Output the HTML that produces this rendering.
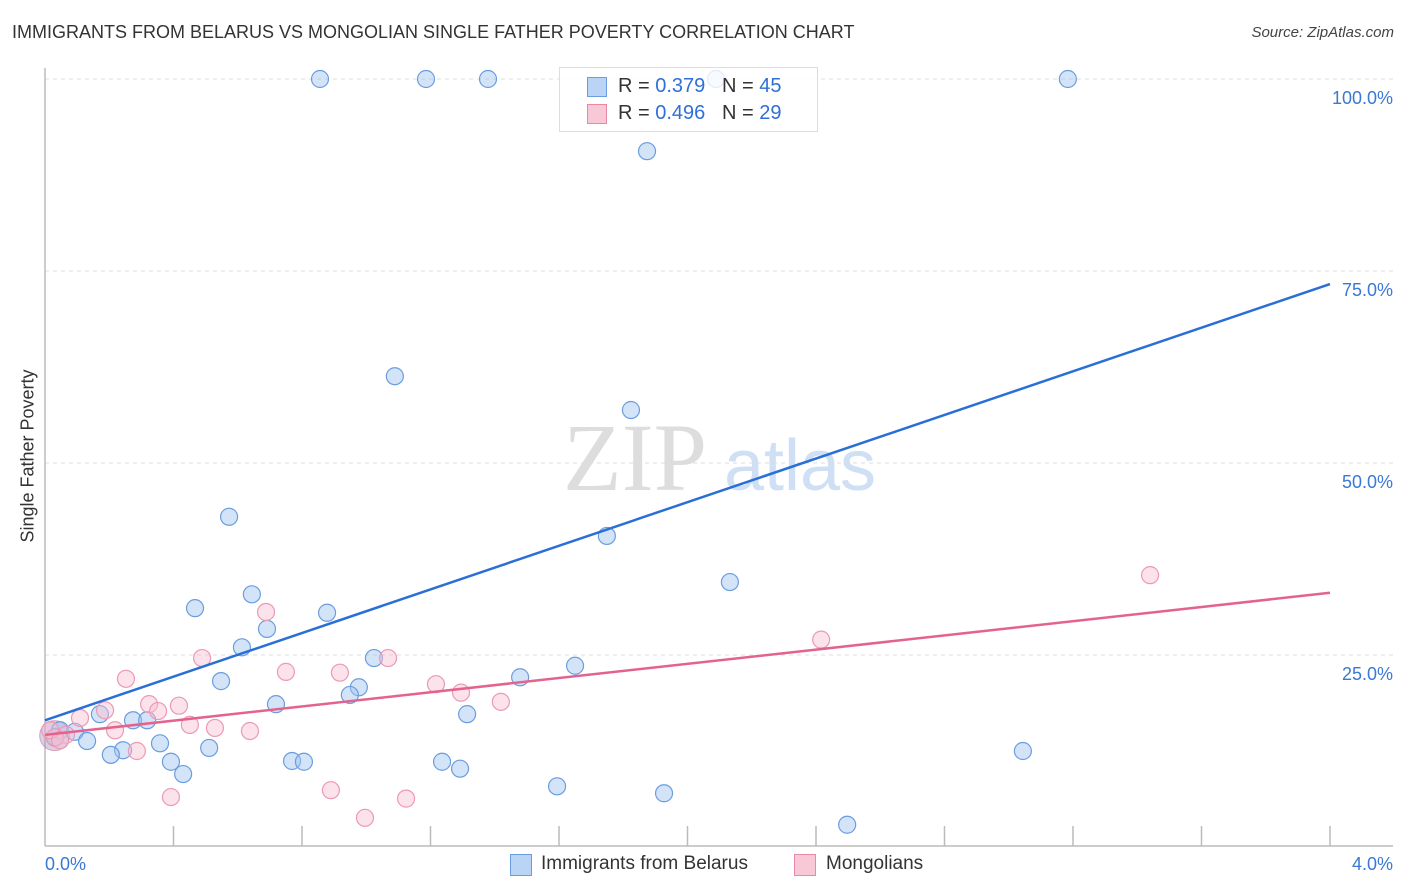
<!DOCTYPE html>
<html><head><meta charset="utf-8"><style>
body{margin:0;background:#fff;font-family:"Liberation Sans",sans-serif;}
#wrap{position:relative;width:1406px;height:892px;overflow:hidden;}
.t{position:absolute;white-space:nowrap;}
</style></head><body>
<div id="wrap">
<svg id="svg" width="1406" height="892" style="position:absolute;left:0;top:0">
<text x="635" y="490" font-family="Liberation Serif,serif" font-size="96" fill="#ddd" text-anchor="middle">ZIP</text>
<text x="800" y="490" font-family="Liberation Sans,sans-serif" font-size="72" fill="#cfe0f5" text-anchor="middle">atlas</text>
</svg>
<div class="t" style="left:12px;top:22px;font-size:18px;color:#333;">IMMIGRANTS FROM BELARUS VS MONGOLIAN SINGLE FATHER POVERTY CORRELATION CHART</div>
<div class="t" style="right:12px;top:24px;font-size:15px;color:#444;font-style:italic;">Source: ZipAtlas.com</div>
<div class="t" style="left:28px;top:456px;font-size:18px;color:#333;transform:translate(-50%,-50%) rotate(-90deg);">Single Father Poverty</div>
<div style="position:absolute;left:559px;top:67px;width:257px;height:63px;border:1px solid #ddd;background:rgba(255,255,255,0.8);font-size:20px;">
<div style="position:absolute;left:27px;top:9px;width:18px;height:18px;background:#b9d4f5;border:1px solid #6a9de0;"></div>
<div class="t" style="left:58px;top:7px;color:#333">R = <span style="color:#2f6fd8">0.379</span> &nbsp; N = <span style="color:#2f6fd8">45</span></div>
<div style="position:absolute;left:27px;top:36px;width:18px;height:18px;background:#f8c8d6;border:1px solid #e88aa6;"></div>
<div class="t" style="left:58px;top:34px;color:#333">R = <span style="color:#2f6fd8">0.496</span> &nbsp; N = <span style="color:#2f6fd8">29</span></div>
</div>
<div style="position:absolute;left:510px;top:854px;width:20px;height:20px;background:#b9d4f5;border:1px solid #6a9de0;"></div>
<div class="t" style="left:541px;top:853px;font-size:19px;color:#333">Immigrants from Belarus</div>
<div style="position:absolute;left:794px;top:854px;width:20px;height:20px;background:#f8c8d6;border:1px solid #e88aa6;"></div>
<div class="t" style="left:826px;top:853px;font-size:19px;color:#333">Mongolians</div>
</div>
<script>
const blueX=[0.856,1.186,1.379,2.089,3.184,1.874,1.089,1.824,0.573,1.749,2.132,0.644,0.467,0.878,0.691,0.613,1.024,1.650,1.479,0.548,0.977,0.949,0.719,0.171,1.314,0.274,0.318,0.047,0.093,0.131,0.358,0.243,0.511,0.205,3.044,0.392,0.769,0.806,1.236,1.292,0.430,1.594,1.927,2.497,0.031];
const blueY=[100,100,100,100,100,90.6,61.3,56.9,43.0,40.5,34.5,32.9,31.1,30.5,28.4,26.0,24.6,23.6,22.1,21.6,20.8,19.8,18.6,17.3,17.3,16.5,16.5,15.2,15.0,13.8,13.5,12.6,12.9,12.0,12.5,11.1,11.2,11.1,11.1,10.2,9.5,7.9,7.0,2.9,14.3];
const pinkX=[3.440,2.416,0.688,0.489,1.068,0.252,0.750,0.918,1.217,1.295,0.324,0.417,1.419,0.187,0.352,0.451,0.529,0.638,0.218,0.109,0.286,0.065,0.392,0.890,1.124,0.996,0.031,0.016,0.047];
const pinkY=[35.4,27.0,30.6,24.6,24.6,21.9,22.8,22.7,21.2,20.1,18.6,18.4,18.9,17.8,17.7,15.9,15.5,15.1,15.2,16.8,12.5,14.6,6.5,7.4,6.3,3.8,14.2,15.2,13.9];
const blueLine=[16.5,73.3];
const pinkLine=[14.6,33.1];
const yTicks=[25,50,75,100];
const yTickLabels=["25.0%","50.0%","75.0%","100.0%"];
const xTicks=[0,0.4,0.8,1.2,1.6,2.0,2.4,2.8,3.2,3.6,4.0];
const xEndLabels=["0.0%","4.0%"];
const X0=45,X1=1330,Y0=847,Y100=79;
const sx=v=>X0+(v/4)*(X1-X0);
const sy=v=>Y0-(v/100)*(Y0-Y100);
const svg=document.getElementById('svg');const NS='http://www.w3.org/2000/svg';
function mk(tag,at){const e=document.createElementNS(NS,tag);for(const k in at)e.setAttribute(k,at[k]);svg.appendChild(e);return e;}
yTicks.forEach((t,i)=>{
 const g=mk('line',{x1:X0,x2:1393,y1:sy(t),y2:sy(t),stroke:'#ddd','stroke-dasharray':'4,4'});
 
 
 const l=mk('text',{x:1393,y:sy(t)+25,'text-anchor':'end','font-size':18,fill:'#3a78d6','font-family':'Liberation Sans,sans-serif'});
 l.textContent=yTickLabels[i];
 
 
});
const ax=mk('line',{x1:X0,x2:X0,y1:68,y2:846,stroke:'#bbb','stroke-width':1.5});


const bx=mk('line',{x1:X0,x2:1393,y1:846,y2:846,stroke:'#bbb','stroke-width':1.5});


xTicks.forEach(t=>{if(t===0)return;
 const e=mk('line',{x1:sx(t),x2:sx(t),y1:826,y2:846,stroke:'#bbb','stroke-width':1.5});
 
 
});
[[0,'start',45],[4,'end',1393]].forEach((d,i)=>{
 const l=mk('text',{x:d[2],y:870,'text-anchor':d[1],'font-size':18,fill:'#3a78d6','font-family':'Liberation Sans,sans-serif'});
 l.textContent=xEndLabels[i];
 
 
});
const big=mk('circle',{cx:sx(0.03),cy:sy(14.5),r:15,fill:'rgba(170,150,200,0.45)',stroke:'rgba(200,120,160,0.6)'});


blueX.forEach((x,i)=>{
 const c=mk('circle',{cx:sx(x),cy:sy(blueY[i]),r:8.5,fill:'rgba(160,196,240,0.45)',stroke:'#6a9de0','stroke-width':1.2});
 
 
});
pinkX.forEach((x,i)=>{
 const c=mk('circle',{cx:sx(x),cy:sy(pinkY[i]),r:8.5,fill:'rgba(248,190,208,0.45)',stroke:'#ec9ab3','stroke-width':1.2});
 
 
});
const bl=mk('line',{x1:sx(0),y1:sy(blueLine[0]),x2:sx(4),y2:sy(blueLine[1]),stroke:'#2a6fd6','stroke-width':2.5});


const pl=mk('line',{x1:sx(0),y1:sy(pinkLine[0]),x2:sx(4),y2:sy(pinkLine[1]),stroke:'#e4638e','stroke-width':2.5});


</script>
</body></html>
